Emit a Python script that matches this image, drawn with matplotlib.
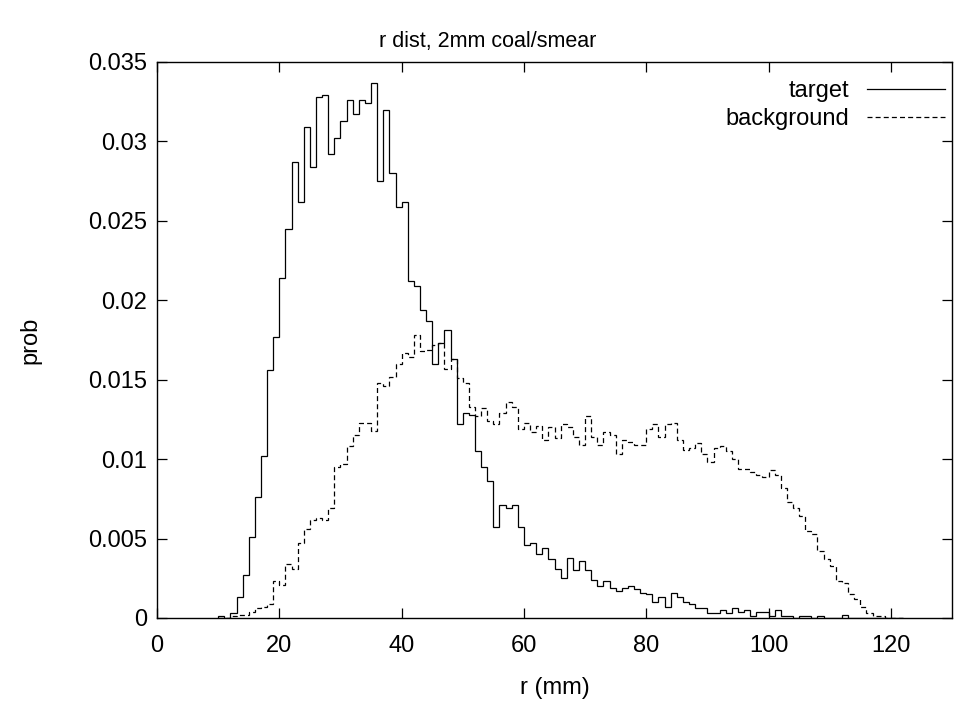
import matplotlib
matplotlib.use("Agg")
import matplotlib.pyplot as plt
import numpy as np

plt.rcParams['font.family'] = ['Liberation Sans', 'DejaVu Sans']

# histogram bin starts (mm), 1 mm bins
bin_start = 10
target = [
    0.0001, 0.0000, 0.0003, 0.0013, 0.0027, 0.0051, 0.0076, 0.0102, 0.0156, 0.0177,   # 10-19
    0.0214, 0.0245, 0.0287, 0.0262, 0.0309, 0.0284, 0.0328, 0.0329, 0.0292, 0.0302,   # 20-29
    0.0313, 0.0326, 0.0317, 0.0326, 0.0324, 0.0337, 0.0275, 0.0320, 0.0280, 0.0259,   # 30-39
    0.0262, 0.0212, 0.0209, 0.0194, 0.0187, 0.0160, 0.0173, 0.0181, 0.0163, 0.0122,   # 40-49
    0.0129, 0.0128, 0.0105, 0.0095, 0.0086, 0.0057, 0.0071, 0.0069, 0.0071, 0.0057,   # 50-59
    0.0046, 0.0047, 0.0040, 0.0044, 0.0037, 0.0031, 0.0025, 0.0038, 0.0030, 0.0036,   # 60-69
    0.0030, 0.0024, 0.0020, 0.0023, 0.0019, 0.0017, 0.0019, 0.0020, 0.0018, 0.0016,   # 70-79
    0.0015, 0.0010, 0.0013, 0.0007, 0.0016, 0.0013, 0.0010, 0.0009, 0.0006, 0.0006,   # 80-89
    0.0003, 0.0003, 0.0005, 0.0003, 0.0006, 0.0004, 0.0005, 0.0001, 0.0004, 0.0004,   # 90-99
    0.0001, 0.0005, 0.0001, 0.0001, 0.0000, 0.0001, 0.0001, 0.0000, 0.0001, 0.0000,   # 100-109
    0.0000, 0.0000, 0.0002, 0.0000, 0.0000, 0.0000, 0.0000, 0.0000, 0.0000, 0.0000,   # 110-119
    0.0000, 0.0000,                                                                   # 120-121
]
background = [
    0.0000, 0.0000, 0.0001, 0.0002, 0.0002, 0.0004, 0.0006, 0.0007, 0.0009, 0.0023,   # 10-19
    0.0021, 0.0034, 0.0031, 0.0047, 0.0056, 0.0062, 0.0063, 0.0062, 0.0069, 0.0095,   # 20-29
    0.0097, 0.0108, 0.0115, 0.0123, 0.0123, 0.0118, 0.0148, 0.0146, 0.0152, 0.0160,   # 30-39
    0.0167, 0.0164, 0.0178, 0.0168, 0.0169, 0.0172, 0.0173, 0.0157, 0.0163, 0.0151,   # 40-49
    0.0148, 0.0133, 0.0127, 0.0132, 0.0124, 0.0122, 0.0129, 0.0136, 0.0133, 0.0119,   # 50-59
    0.0123, 0.0117, 0.0121, 0.0112, 0.0120, 0.0113, 0.0122, 0.0120, 0.0114, 0.0109,   # 60-69
    0.0127, 0.0114, 0.0109, 0.0117, 0.0115, 0.0103, 0.0112, 0.0111, 0.0109, 0.0109,   # 70-79
    0.0119, 0.0122, 0.0114, 0.0122, 0.0123, 0.0112, 0.0106, 0.0107, 0.0110, 0.0103,   # 80-89
    0.0098, 0.0107, 0.0108, 0.0105, 0.0100, 0.0094, 0.0094, 0.0092, 0.0090, 0.0089,   # 90-99
    0.0093, 0.0090, 0.0082, 0.0073, 0.0069, 0.0064, 0.0055, 0.0053, 0.0042, 0.0037,   # 100-109
    0.0033, 0.0023, 0.0022, 0.0015, 0.0012, 0.0007, 0.0003, 0.0001, 0.0001, 0.00003,  # 110-119
    0.00002, 0.00001,                                                                 # 120-121
]
edges = np.arange(bin_start, bin_start + len(target) + 1)

x_ticks = [0, 20, 40, 60, 80, 100, 120]
y_ticks = [0, 0.005, 0.01, 0.015, 0.02, 0.025, 0.03, 0.035]
y_tick_labels = ['0', '0.005', '0.01', '0.015', '0.02', '0.025', '0.03', '0.035']

FS = 17

fig = plt.figure(figsize=(9.76, 7.08), dpi=100)
ax = fig.add_axes([157/976, 1 - 618/708, (952-157)/976, (618-62)/708])

ax.stairs(target, edges, color='black', linewidth=0.9, label='target')
ax.stairs(background, edges, color='black', linewidth=0.9,
          linestyle=(0, (4, 2.5)), label='background')

ax.set_xlim(0, 130)
ax.set_ylim(0, 0.035)
ax.set_xticks(x_ticks)
ax.set_xticklabels([str(t) for t in x_ticks])
ax.set_yticks(y_ticks)
ax.set_yticklabels(y_tick_labels)
ax.tick_params(direction='in', length=7, width=0.9, top=True, right=True,
               labelsize=FS)
ax.tick_params(axis='x', pad=12)
ax.tick_params(axis='y', pad=7)
for s in ax.spines.values():
    s.set_linewidth(1.0)

ax.set_xlabel('r (mm)', fontsize=FS)
ax.xaxis.set_label_coords(0.5, (618 - 688) / 556)
ax.xaxis.label.set_va('center')
ax.set_ylabel('prob', fontsize=FS)
ax.yaxis.set_label_coords((30 - 157) / 795, 0.5)
ax.yaxis.label.set_va('center')

fig.text(0.5, 1 - 42/708, 'r dist, 2mm coal/smear', fontsize=15.5,
         ha='center', va='center')

leg = ax.legend(loc='upper right', frameon=False, fontsize=FS, markerfirst=False,
                handlelength=3.3, handletextpad=0.75, labelspacing=0.28,
                borderaxespad=0.0, bbox_to_anchor=(1.003, 0.985))

fig.savefig('out.png', dpi=100)
